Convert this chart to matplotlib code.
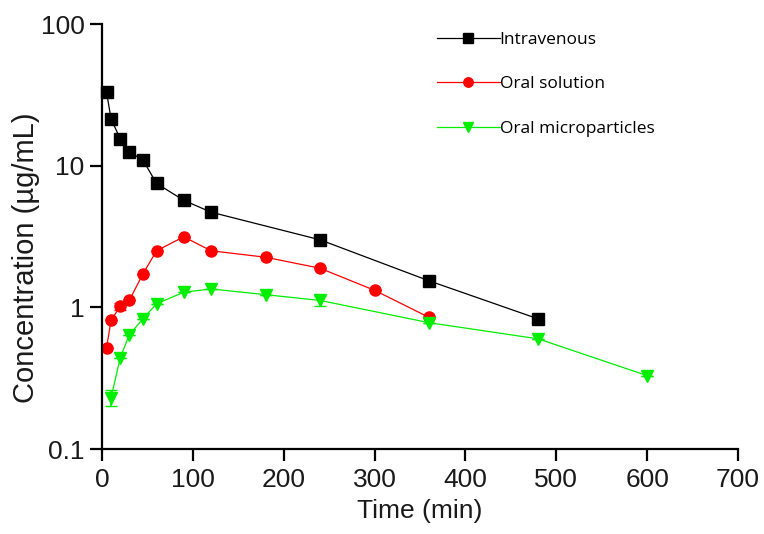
import numpy as np
import matplotlib
matplotlib.use('Agg')
import matplotlib.pyplot as plt
from matplotlib.ticker import NullLocator

# intravenous
iv_t = [5, 10, 20, 30, 45, 60, 90, 120, 240, 360, 480]
iv_c = [33.0, 21.4, 15.5, 12.5, 11.0, 7.5, 5.7, 4.7, 3.0, 1.54, 0.83]
iv_err = [2.0, 0, 0, 0, 0, 0, 0, 0, 0, 0, 0]

# oral solution
os_t = [5, 10, 20, 30, 45, 60, 90, 120, 180, 240, 300, 360]
os_c = [0.52, 0.81, 1.02, 1.12, 1.72, 2.51, 3.15, 2.51, 2.26, 1.89, 1.32, 0.85]
os_err = [0, 0, 0.06, 0, 0, 0, 0, 0, 0, 0, 0, 0]

# oral microparticles
mp_t = [10, 20, 30, 45, 60, 90, 120, 180, 240, 360, 480, 600]
mp_c = [0.23, 0.44, 0.64, 0.83, 1.06, 1.28, 1.35, 1.23, 1.12, 0.78, 0.60, 0.33]
mp_err = [0.03, 0, 0, 0, 0, 0, 0, 0, 0.09, 0, 0, 0]

xticks = [0, 100, 200, 300, 400, 500, 600, 700]
yticks = [0.1, 1, 10, 100]
ylabels = ['0.1', '1', '10', '100']

plt.rcParams['font.family'] = ['Liberation Sans', 'DejaVu Sans']

fig = plt.figure(figsize=(7.64, 5.34), dpi=100)
ax = fig.add_axes([0.1335, 0.159, 0.8325, 0.796])

ax.errorbar(iv_t, iv_c, yerr=iv_err, color='black', marker='s', markersize=8,
            lw=0.9, capsize=4, elinewidth=1.2, label='Intravenous', clip_on=False)
ax.errorbar(os_t, os_c, yerr=os_err, color='#ff0000', marker='o', markersize=8,
            lw=0.9, capsize=4, elinewidth=1.2, label='Oral solution', clip_on=False)
ax.errorbar(mp_t, mp_c, yerr=mp_err, color='#00ee00', marker='v', markersize=8,
            lw=0.9, capsize=4, elinewidth=1.2, label='Oral microparticles', clip_on=False)

ax.set_yscale('log')
ax.set_ylim(0.1, 100)
ax.set_xlim(0, 700)
ax.set_xticks(xticks)
ax.set_yticks(yticks)
ax.set_yticklabels(ylabels)
ax.yaxis.set_minor_locator(NullLocator())

for s in ['top', 'right']:
    ax.spines[s].set_visible(False)
for s in ['left', 'bottom']:
    ax.spines[s].set_linewidth(1.6)
ax.tick_params(axis='both', which='major', length=8.5, width=1.6, labelsize=19,
               labelcolor='#1a1a1a')
ax.tick_params(axis='x', pad=5)
ax.tick_params(axis='y', pad=4)

ax.set_xlabel('Time (min)', fontsize=19, labelpad=5, color='#1a1a1a')
ax.set_ylabel('Concentration (µg/mL)', fontsize=21, color='#1a1a1a')
ax.yaxis.set_label_coords(-0.097, 0.45)

handles, labels = ax.get_legend_handles_labels()
handles = [h[0] for h in handles]
leg = ax.legend(handles, labels, loc='upper left', bbox_to_anchor=(0.505, 1.015),
                frameon=False, prop={'family': ['Open Sans', 'DejaVu Sans'], 'size': 12.5},
                handlelength=3.6, handletextpad=0.0, labelspacing=1.65,
                borderpad=0.3, markerscale=0.85)

fig.savefig('out.png', dpi=100)
